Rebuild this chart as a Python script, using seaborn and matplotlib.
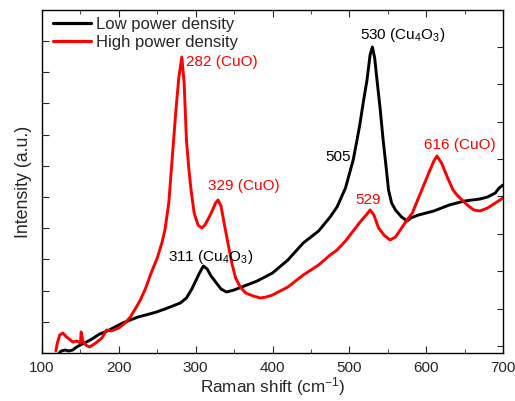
import numpy as np
import pandas as pd
import matplotlib
matplotlib.use("Agg")
import matplotlib.pyplot as plt
import seaborn as sns
from matplotlib.ticker import MultipleLocator, FixedLocator
from matplotlib.lines import Line2D

# ---- data (arbitrary intensity units) ----
low_x = [120, 125, 130, 135, 140, 145, 150, 158, 165, 175, 185, 195, 205, 215, 225, 235,
         249, 260, 270, 280, 288, 295, 300, 305, 310, 315, 320, 327, 333, 340, 350, 360,
         370, 380, 390, 400, 420, 440, 460, 475, 484, 495, 505, 510, 514, 518, 523, 527,
         530, 533, 536, 540, 544, 548, 551, 555, 560, 568, 575, 580, 590, 600, 610, 620,
         630, 640, 650, 660, 670, 680, 690, 695, 700]
low_y = [-2, 2, 3, 2, 3, 6, 8, 11, 14, 19, 22, 26, 30, 33, 36, 38,
         41, 44, 47, 50, 55, 64, 72, 80, 87, 84, 77, 70, 64, 61, 63, 66,
         69, 72, 76, 80, 93, 110, 122, 136, 146, 165, 193, 213, 230, 250, 273, 298,
         306, 295, 273, 245, 213, 185, 163, 150, 143, 136, 132, 135, 138, 140, 142, 145,
         148, 150, 152, 153, 154, 156, 160, 165, 168]

high_x = [118, 120, 123, 127, 132, 137, 140, 145, 150, 151, 153, 157, 162, 170, 178, 184,
          190, 200, 208, 215, 222, 228, 235, 242, 250, 256, 260, 265, 270, 274, 278, 282,
          285, 288, 291, 294, 298, 303, 308, 312, 317, 322, 326, 329, 333, 337, 342, 347,
          352, 358, 365, 375, 384, 392, 400, 420, 440, 460, 475, 484, 495, 505, 515, 522,
          527, 532, 538, 545, 553, 560, 568, 575, 582, 590, 598, 605, 610, 614, 620, 628,
          635, 640, 648, 655, 662, 670, 680, 690, 696, 700]
high_y = [2, 10, 18, 20, 16, 13, 11, 12, 10, 21, 12, 8, 6, 10, 15, 23,
          22, 25, 30, 36, 45, 53, 65, 80, 95, 110, 123, 150, 200, 240, 275, 296,
          270, 213, 185, 163, 140, 128, 125, 128, 135, 143, 150, 153, 147, 130, 110, 90,
          75, 66, 60, 57, 55, 56, 58, 66, 78, 88, 98, 103, 112, 122, 132, 138,
          143, 138, 125, 118, 113, 116, 125, 133, 140, 155, 170, 183, 192, 197, 190, 175,
          163, 158, 152, 147, 143, 142, 145, 150, 153, 155]

series_names = ["Low power density", "High power density"]
series_colors = ["black", "red"]

df = pd.concat([
    pd.DataFrame({"shift": low_x, "intensity": low_y, "sample": series_names[0]}),
    pd.DataFrame({"shift": high_x, "intensity": high_y, "sample": series_names[1]}),
], ignore_index=True)

# ---- style ----
sns.set_style("ticks")
plt.rcParams["font.family"] = ["Liberation Sans", "DejaVu Sans"]
plt.rcParams["mathtext.fontset"] = "custom"
plt.rcParams["mathtext.rm"] = "Liberation Sans"
plt.rcParams["mathtext.it"] = "Liberation Sans:italic"
plt.rcParams["mathtext.bf"] = "Liberation Sans:bold"

fig = plt.figure(figsize=(5.15, 4.01), dpi=100)
ax = fig.add_axes([42 / 515, 48 / 401, 461 / 515, 343 / 401])

sns.lineplot(data=df, x="shift", y="intensity", hue="sample",
             palette=dict(zip(series_names, series_colors)),
             linewidth=2.1, ax=ax, sort=False, estimator=None, legend=False)

ax.set_xlim(100, 700)
ax.set_ylim(0, 343)
ax.xaxis.set_major_locator(MultipleLocator(100))
ax.xaxis.set_minor_locator(MultipleLocator(50))
ax.yaxis.set_major_locator(FixedLocator(np.arange(0, 344, 31.2)))
ax.set_yticklabels([])
ax.tick_params(axis="x", which="both", direction="in", top=True, labelsize=11, pad=6)
ax.tick_params(axis="x", which="major", length=5)
ax.tick_params(axis="x", which="minor", length=3)
ax.tick_params(axis="y", which="major", direction="in", length=5, left=True, right=False)
for s in ax.spines.values():
    s.set_linewidth(1.0)
    s.set_color("black")

ax2 = ax.twinx()
ax2.set_ylim(0, 343)
ax2.yaxis.set_major_locator(FixedLocator(np.arange(7, 320, 37.4)))
ax2.set_yticklabels([])
ax2.tick_params(axis="y", direction="in", length=4, right=True)
for s in ax2.spines.values():
    s.set_visible(False)

ax.set_xlabel("Raman shift (cm$^{-1}$)", fontsize=12.3, labelpad=0)
ax.set_ylabel("Intensity (a.u.)", fontsize=12.8, labelpad=4)

handles = [Line2D([], [], color=c, linewidth=2.3) for c in series_colors]
ax.legend(handles, series_names, loc="upper left", frameon=False, fontsize=12,
          handlelength=2.3, handletextpad=0.25, borderaxespad=0.0, borderpad=0.0,
          labelspacing=0.15, bbox_to_anchor=((53 - 42) / 461, (353 - 17) / 343))

# ---- annotations ----
fs = 11
ax.text(287.5, 291, "282 (CuO)", color="red", fontsize=fs, ha="left", va="center")
ax.text(316, 167, "329 (CuO)", color="red", fontsize=fs, ha="left", va="center")
ax.text(264, 96, "311 (Cu$_4$O$_3$)", color="black", fontsize=fs, ha="left", va="center")
ax.text(514, 318, "530 (Cu$_4$O$_3$)", color="black", fontsize=fs, ha="left", va="center")
ax.text(502, 196, "505", color="black", fontsize=fs, ha="right", va="center")
ax.text(525, 153, "529", color="red", fontsize=fs, ha="center", va="center")
ax.text(597.5, 208, "616 (CuO)", color="red", fontsize=fs, ha="left", va="center")

fig.savefig("out.png", dpi=100)
